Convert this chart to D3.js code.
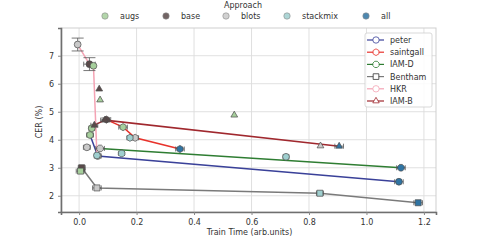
<!DOCTYPE html>
<html>
<head>
<meta charset="utf-8">
<script src="https://cdn.jsdelivr.net/npm/d3@7"></script>
<style>
  body { margin: 0; background: #fff; }
  text { font-family: "DejaVu Sans", sans-serif; }
</style>
</head>
<body>
<div id="chart"></div>
<script>
// approaches (marker fill) and datasets (line colour + marker shape)
var approaches = ["augs", "base", "blots", "stackmix", "all"];
var approachColors = ["#a6cf9c", "#5a4a4a", "#c9c9c9", "#9fcfcf", "#2f74a3"];

var datasets = ["peter", "saintgall", "IAM-D", "Bentham", "HKR", "IAM-B"];
var lineColors = ["#3a4199", "#e8322b", "#2e7d32", "#7a7a7a", "#f4a3b4", "#a0282e"];
var shapes = ["circle", "hexagon", "octagon", "square", "circle", "triangle"];

// points: [trainTime, CER, approach, onLine, xerr, yerr]
var peter = [
  [0.038, 4.17, "augs", 1, 0.012, 0],
  [0.065, 3.42, "blots", 1, 0.012, 0],
  [1.113, 2.50, "all", 1, 0.015, 0],
  [0.027, 3.73, "blots", 0, 0.012, 0],
  [0.044, 4.41, "augs", 0, 0.010, 0],
  [0.720, 3.39, "stackmix", 0, 0.010, 0]
];
var saintgall = [
  [0.095, 4.72, "base", 1, 0.015, 0],
  [0.153, 4.45, "augs", 1, 0.015, 0],
  [0.195, 4.07, "blots", 1, 0.012, 0],
  [0.351, 3.67, "all", 1, 0.015, 0],
  [0.177, 4.07, "stackmix", 0, 0.010, 0]
];
var iamD = [
  [0.073, 3.69, "blots", 1, 0.015, 0],
  [1.120, 3.00, "all", 1, 0.015, 0],
  [0.148, 3.51, "stackmix", 0, 0.010, 0]
];
var bentham = [
  [0.009, 3.00, "base", 1, 0.012, 0],
  [0.005, 2.88, "augs", 0, 0.015, 0],
  [0.062, 2.28, "blots", 1, 0.015, 0],
  [0.838, 2.09, "stackmix", 1, 0.012, 0],
  [1.180, 1.75, "all", 1, 0.015, 0]
];
var hkr = [
  [-0.005, 7.40, "blots", 1, 0, 0.23],
  [0.036, 6.70, "base", 1, 0.02, 0.23],
  [0.050, 6.64, "augs", 1, 0, 0],
  [0.062, 3.44, "stackmix", 1, 0, 0]
];
var iamB = [
  [0.053, 4.52, "base", 1, 0.012, 0],
  [0.090, 4.70, "base", 1, 0.015, 0],
  [0.905, 3.77, "all", 1, 0.015, 0],
  [0.070, 5.81, "base", 0, 0, 0],
  [0.073, 5.42, "augs", 0, 0, 0],
  [0.540, 4.88, "augs", 0, 0, 0],
  [0.840, 3.78, "blots", 0, 0, 0]
];
var seriesPoints = [peter, saintgall, iamD, bentham, hkr, iamB];

var xTicks = [0.0, 0.2, 0.4, 0.6, 0.8, 1.0, 1.2];
var yTicks = [2, 3, 4, 5, 6, 7];

// layout
var W = 484, H = 242;
var plot = { left: 61, right: 436, top: 28, bottom: 212 };

var svg = d3.select("#chart").append("svg")
  .attr("width", W)
  .attr("height", H);

var x = d3.scaleLinear().domain([-0.063, 1.242]).range([plot.left, plot.right]);
var y = d3.scaleLinear().domain([1.42, 7.99]).range([plot.bottom, plot.top]);

// grid
svg.append("g").selectAll("line").data(xTicks).enter().append("line")
  .attr("x1", function (d) { return x(d); }).attr("x2", function (d) { return x(d); })
  .attr("y1", plot.top).attr("y2", plot.bottom)
  .attr("stroke", "#dcdcdc").attr("stroke-width", 0.9);
svg.append("g").selectAll("line").data(yTicks).enter().append("line")
  .attr("y1", function (d) { return y(d); }).attr("y2", function (d) { return y(d); })
  .attr("x1", plot.left).attr("x2", plot.right)
  .attr("stroke", "#dcdcdc").attr("stroke-width", 0.9);

// frame: light top/right, darker left/bottom
svg.append("rect")
  .attr("x", plot.left).attr("y", plot.top)
  .attr("width", plot.right - plot.left).attr("height", plot.bottom - plot.top)
  .attr("fill", "none").attr("stroke", "#cfcfcf").attr("stroke-width", 1);

// axes
var xAxis = d3.axisBottom(x).tickValues(xTicks).tickFormat(d3.format(".1f")).tickSize(3).tickPadding(4);
var yAxis = d3.axisLeft(y).tickValues(yTicks).tickFormat(d3.format("d")).tickSize(3).tickPadding(4);

var gx = svg.append("g").attr("transform", "translate(0," + plot.bottom + ")").call(xAxis);
var gy = svg.append("g").attr("transform", "translate(" + plot.left + ",0)").call(yAxis);
[gx, gy].forEach(function (g) {
  g.select(".domain").attr("stroke", "#6f6f6f").attr("stroke-width", 1.6);
  g.selectAll(".tick line").attr("stroke", "#888");
  g.selectAll(".tick text").attr("font-size", 8).attr("fill", "#333")
    .attr("font-family", "DejaVu Sans, sans-serif");
});

svg.append("text")
  .attr("x", (plot.left + plot.right) / 2 + 1).attr("y", 235)
  .attr("text-anchor", "middle").attr("font-size", 8).attr("fill", "#333")
  .text("Train Time (arb.units)");
svg.append("text")
  .attr("transform", "translate(42," + ((plot.top + plot.bottom) / 2 + 2) + ") rotate(-90)")
  .attr("text-anchor", "middle").attr("font-size", 8).attr("fill", "#333")
  .text("CER (%)");

// marker shapes
function polygon(n, r, rot) {
  var pts = [];
  for (var i = 0; i < n; i++) {
    var a = rot + i * 2 * Math.PI / n;
    pts.push([r * Math.cos(a), r * Math.sin(a)]);
  }
  return "M" + pts.map(function (p) { return p[0].toFixed(2) + "," + p[1].toFixed(2); }).join("L") + "Z";
}
function markerPath(shape, r) {
  if (shape === "circle") return d3.symbol().type(d3.symbolCircle).size(Math.PI * r * r)();
  if (shape === "square") return polygon(4, r * 1.25, Math.PI / 4);
  if (shape === "triangle") return polygon(3, r * 1.15, -Math.PI / 2);
  if (shape === "hexagon") return polygon(6, r * 1.05, -Math.PI / 2);
  if (shape === "octagon") return polygon(8, r * 1.05, Math.PI / 8);
}
function fillOf(a) { return approachColors[approaches.indexOf(a)]; }

var plotArea = svg.append("g");

// lines
seriesPoints.forEach(function (pts, i) {
  var onLine = pts.filter(function (d) { return d[3] === 1; })
    .sort(function (a, b) { return a[0] - b[0]; });
  plotArea.append("path")
    .datum(onLine)
    .attr("fill", "none")
    .attr("stroke", lineColors[i])
    .attr("stroke-width", 1.5)
    .attr("d", d3.line().x(function (d) { return x(d[0]); }).y(function (d) { return y(d[1]); }));
});

// error bars
seriesPoints.forEach(function (pts) {
  pts.forEach(function (d) {
    var g = plotArea.append("g").attr("stroke", "#555").attr("stroke-width", 0.8);
    if (d[4] > 0) {
      g.append("line").attr("x1", x(d[0] - d[4])).attr("x2", x(d[0] + d[4]))
        .attr("y1", y(d[1])).attr("y2", y(d[1]));
      [d[0] - d[4], d[0] + d[4]].forEach(function (v) {
        g.append("line").attr("x1", x(v)).attr("x2", x(v))
          .attr("y1", y(d[1]) - 2.5).attr("y2", y(d[1]) + 2.5);
      });
    }
    if (d[5] > 0) {
      g.append("line").attr("x1", x(d[0])).attr("x2", x(d[0]))
        .attr("y1", y(d[1] - d[5])).attr("y2", y(d[1] + d[5]));
      [d[1] - d[5], d[1] + d[5]].forEach(function (v) {
        g.append("line").attr("x1", x(d[0]) - 6).attr("x2", x(d[0]) + 6)
          .attr("y1", y(v)).attr("y2", y(v));
      });
    }
  });
});

// markers
seriesPoints.forEach(function (pts, i) {
  plotArea.append("g").selectAll("path").data(pts).enter().append("path")
    .attr("transform", function (d) { return "translate(" + x(d[0]) + "," + y(d[1]) + ")"; })
    .attr("d", markerPath(shapes[i], 3.4))
    .attr("fill", function (d) { return fillOf(d[2]); })
    .attr("stroke", "#4a4a4a")
    .attr("stroke-width", 0.7);
});

// approach legend on top
svg.append("text")
  .attr("x", 243).attr("y", 8)
  .attr("text-anchor", "middle").attr("font-size", 8).attr("fill", "#333")
  .text("Approach");
var legX = [105, 166, 226, 287, 366];
var topLeg = svg.append("g").selectAll("g").data(approaches).enter().append("g")
  .attr("transform", function (d, i) { return "translate(" + legX[i] + ",16)"; });
topLeg.append("circle")
  .attr("r", 3.2)
  .attr("fill", function (d) { return fillOf(d); })
  .attr("stroke", "#777").attr("stroke-width", 0.6).attr("opacity", 0.85);
topLeg.append("text")
  .attr("x", 15).attr("y", 3)
  .attr("font-size", 8).attr("fill", "#333")
  .text(function (d) { return d; });

// dataset legend box
var box = svg.append("g").attr("transform", "translate(365,33)");
box.append("rect")
  .attr("width", 67).attr("height", 74).attr("rx", 2)
  .attr("fill", "#fff").attr("fill-opacity", 0.85)
  .attr("stroke", "#cfcfcf").attr("stroke-width", 0.8);
var items = box.selectAll("g.item").data(datasets).enter().append("g")
  .attr("class", "item")
  .attr("transform", function (d, i) { return "translate(0," + (7 + i * 12.2) + ")"; });
items.append("line")
  .attr("x1", 2).attr("x2", 19)
  .attr("stroke", function (d, i) { return lineColors[i]; })
  .attr("stroke-width", 1.2);
items.append("path")
  .attr("transform", "translate(11,0)")
  .attr("d", function (d, i) { return markerPath(shapes[i], 3.2); })
  .attr("fill", "#fff")
  .attr("stroke", function (d, i) { return i === 3 ? "#333" : lineColors[i]; })
  .attr("stroke-width", 0.8);
items.append("text")
  .attr("x", 25).attr("y", 3)
  .attr("font-size", 8).attr("fill", "#333")
  .text(function (d) { return d; });
</script>
</body>
</html>
